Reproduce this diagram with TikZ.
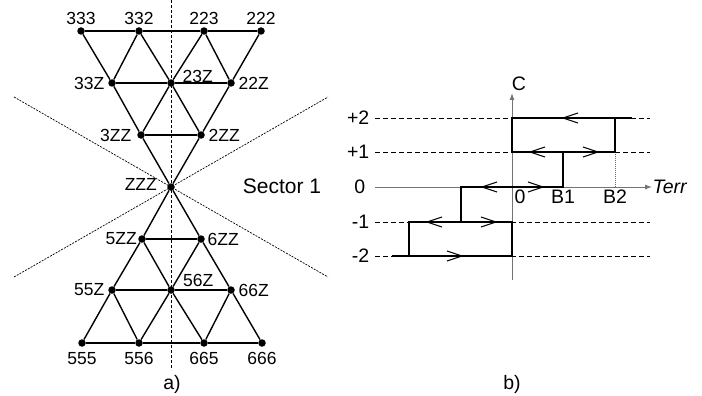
\documentclass[tikz,border=0pt]{standalone}
\usepackage{fontspec}
\setmainfont{Liberation Sans}
\usetikzlibrary{arrows.meta}
\begin{document}
\begin{tikzpicture}[x=1pt,y=-1pt,
  dot/.style={circle,fill=black,inner sep=0pt,minimum size=7.5pt},
  lab/.style={inner sep=0.5pt,font=\fontsize{17.5}{17.5}\selectfont},
  rlab/.style={inner sep=0.5pt,font=\fontsize{19.5}{20}\selectfont},
  edge/.style={line width=1.4pt,black},
  vdash/.style={line width=0.7pt,dash pattern=on 3pt off 2pt},
  diag/.style={line width=0.7pt,dash pattern=on 2pt off 1.2pt},
  lvl/.style={line width=0.8pt,dash pattern=on 5pt off 3pt},
  hyst/.style={line width=1.4pt,black},
  axis/.style={line width=1pt,black!55},
  chl/.pic={\draw[line width=1.1pt] (15,-5) -- (0,0) -- (15,5);},
  chr/.pic={\draw[line width=1.1pt] (-15,-5) -- (0,0) -- (-15,5);}]
\useasboundingbox (0,0) rectangle (702,396);

% ---------- a) ----------
\coordinate (vt) at (171,0);
\coordinate (vb) at (171,370);
\coordinate (d1) at (14,97);
\coordinate (d2) at (328,277);
\coordinate (d3) at (14,277);
\coordinate (d4) at (328,97);
\draw[vdash] (vt) -- (vb);
\draw[diag] (d1) -- (d2);
\draw[diag] (d3) -- (d4);

\node[dot,label={[lab,label distance=1.5pt]above:333}] (n333) at (81,31) {};
\node[dot,label={[lab,label distance=1.5pt]above:332}] (n332) at (139,31) {};
\node[dot,label={[lab,label distance=1.5pt]above:223}] (n223) at (204,31) {};
\node[dot,label={[lab,label distance=1.5pt]above:222}] (n222) at (261,31) {};
\node[dot,label={[lab,label distance=3pt]left:33Z}] (n33Z) at (112,83) {};
\node[dot,label={[lab,label distance=7pt,anchor=south west]right:23Z}] (n23Z) at (171,83) {};
\node[dot,label={[lab,label distance=3pt]right:22Z}] (n22Z) at (231,83) {};
\node[dot,label={[lab,label distance=5pt]left:3ZZ}] (n3ZZ) at (141,135) {};
\node[dot,label={[lab,label distance=3pt]right:2ZZ}] (n2ZZ) at (201,135) {};
\node[dot,label={[lab,label distance=9.5pt,yshift=3pt]left:ZZZ}] (nZZZ) at (171,187) {};
\node[dot,label={[lab,label distance=0.5pt]left:5ZZ}] (n5ZZ) at (142,239) {};
\node[dot,label={[lab,label distance=2pt]right:6ZZ}] (n6ZZ) at (201,239) {};
\node[dot,label={[lab,label distance=3pt]left:55Z}] (n55Z) at (112,290) {};
\node[dot,label={[lab,label distance=7.5pt,anchor=south west,yshift=3pt]right:56Z}] (n56Z) at (171,290) {};
\node[dot,label={[lab,label distance=3pt]right:66Z}] (n66Z) at (231,290) {};
\node[dot,label={[lab,label distance=4.5pt]below:555}] (n555) at (82,343) {};
\node[dot,label={[lab,label distance=4.5pt]below:556}] (n556) at (139,343) {};
\node[dot,label={[lab,label distance=4.5pt]below:665}] (n665) at (204,343) {};
\node[dot,label={[lab,label distance=4.5pt]below:666}] (n666) at (262,343) {};

\node[inner sep=0pt,font=\fontsize{21}{21}\selectfont] (sec) at (282,186) {Sector 1};

% upper triangle
\draw[edge] (n333) -- (n332);
\draw[edge] (n332) -- (n223);
\draw[edge] (n223) -- (n222);
\draw[edge] (n333) -- (n33Z);
\draw[edge] (n33Z) -- (n3ZZ);
\draw[edge] (n3ZZ) -- (nZZZ);
\draw[edge] (n222) -- (n22Z);
\draw[edge] (n22Z) -- (n2ZZ);
\draw[edge] (n2ZZ) -- (nZZZ);
\draw[edge] (n332) -- (n33Z);
\draw[edge] (n332) -- (n23Z);
\draw[edge] (n223) -- (n23Z);
\draw[edge] (n223) -- (n22Z);
\draw[edge] (n33Z) -- (n23Z);
\draw[edge] (n23Z) -- (n22Z);
\draw[edge] (n3ZZ) -- (n23Z);
\draw[edge] (n2ZZ) -- (n23Z);
\draw[edge] (n3ZZ) -- (n2ZZ);
% lower triangle
\draw[edge] (nZZZ) -- (n5ZZ);
\draw[edge] (nZZZ) -- (n6ZZ);
\draw[edge] (n5ZZ) -- (n6ZZ);
\draw[edge] (n5ZZ) -- (n55Z);
\draw[edge] (n5ZZ) -- (n56Z);
\draw[edge] (n6ZZ) -- (n56Z);
\draw[edge] (n6ZZ) -- (n66Z);
\draw[edge] (n55Z) -- (n56Z);
\draw[edge] (n56Z) -- (n66Z);
\draw[edge] (n55Z) -- (n555);
\draw[edge] (n55Z) -- (n556);
\draw[edge] (n56Z) -- (n556);
\draw[edge] (n56Z) -- (n665);
\draw[edge] (n66Z) -- (n665);
\draw[edge] (n66Z) -- (n666);
\draw[edge] (n555) -- (n556);
\draw[edge] (n556) -- (n665);
\draw[edge] (n665) -- (n666);

\node[inner sep=0pt,font=\fontsize{19.5}{19.5}\selectfont] (capa) at (172,384) {a)};

% ---------- b) ----------
\coordinate (yb) at (512,280);
\coordinate (yt) at (512,93);
\coordinate (xl) at (375,187);
\coordinate (xr) at (652,187);

\draw[lvl] (375,118) -- (650,118);
\draw[lvl] (375,152) -- (650,152);
\draw[lvl] (375,222) -- (650,222);
\draw[lvl] (375,256) -- (650,256);

\draw[axis,-{Latex[length=7pt,width=5pt]}] (yb) -- (yt);
\draw[axis,-{Latex[length=7pt,width=5pt]}] (xl) -- (xr);

\draw[line width=0.7pt,black!60,dash pattern=on 1pt off 1pt] (615,152) -- (615,187);

\draw[hyst] (632,118) -- (512,118) -- (512,152) -- (615,152) -- (615,118);
\draw[hyst] (563,152) -- (563,187) -- (461,187) -- (461,222);
\draw[hyst] (392,256) -- (512,256) -- (512,222) -- (409,222) -- (409,256);

\pic at (563,118) {chl};
\pic at (530,152) {chl};
\pic at (598,152) {chr};
\pic at (482,187) {chl};
\pic at (543,187) {chr};
\pic at (427,222) {chl};
\pic at (496,222) {chr};
\pic at (462,256) {chr};

\node[rlab] (lC) at (519,84) {C};
\node[rlab,anchor=west] (lT) at (652,187) {\itshape Terr};
\node[rlab,anchor=east] (lp2) at (370,118) {+2};
\node[rlab,anchor=east] (lp1) at (370,152) {+1};
\node[rlab,anchor=east] (l0) at (366,187) {0};
\node[rlab,anchor=east] (lm1) at (370,222) {-1};
\node[rlab,anchor=east] (lm2) at (370,256) {-2};
\node[rlab] (o0) at (520,197) {0};
\node[rlab] (oB1) at (563,197) {B1};
\node[rlab] (oB2) at (615,197) {B2};

\node[inner sep=0pt,font=\fontsize{19.5}{19.5}\selectfont] (capb) at (512,384) {b)};
\end{tikzpicture}
\end{document}
